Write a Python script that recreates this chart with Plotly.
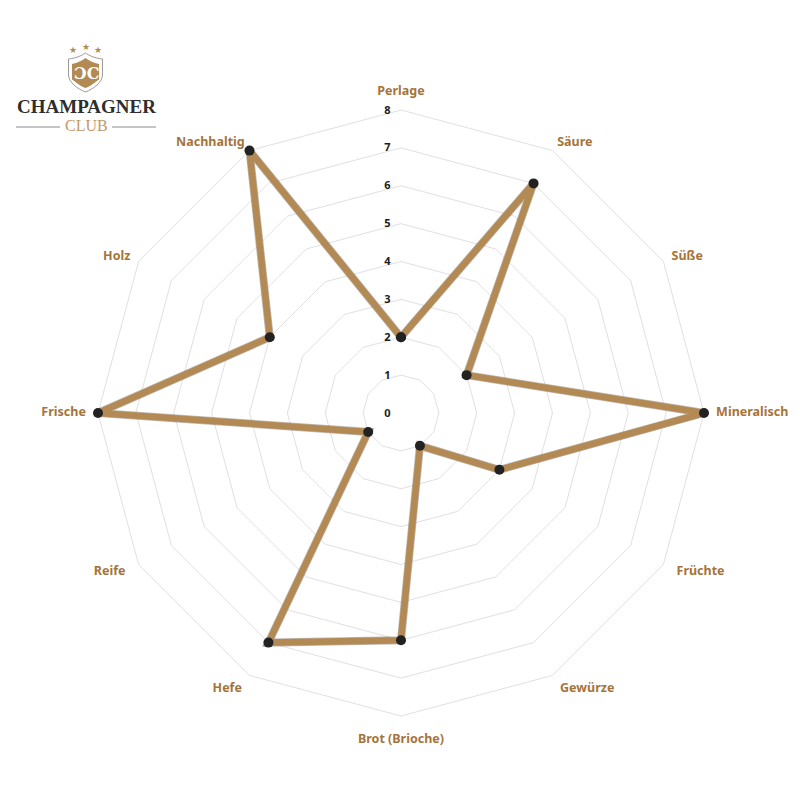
import plotly.graph_objects as go

categories = ["Perlage", "Säure", "Süße", "Mineralisch", "Früchte", "Gewürze",
              "Brot (Brioche)", "Hefe", "Reife", "Frische", "Holz", "Nachhaltig"]
values = [2, 7, 2, 8, 3, 1, 6, 7, 1, 8, 4, 8]
radial_ticks = [0, 1, 2, 3, 4, 5, 6, 7, 8]
label_radius = [8.32, 8.25, 8.25, 8.32, 8.4, 8.4, 8.46, 8.4, 8.4, 8.32, 8.25, 8.25]
label_positions = ["top center", "middle right", "middle right", "middle right", "middle right", "middle right",
                   "bottom center", "middle left", "middle left", "middle left", "middle left", "middle left"]

W = H = 800
UNIT = 37.875
RMAX = 8.6
CX, CY, R = 401, 413, RMAX * UNIT
GOLD = "#B38A54"
LABEL = "#A5743A"
px = lambda x: x / W
py = lambda y: 1 - y / H

fig = go.Figure()
fig.add_trace(go.Scatterpolar(
    r=values + values[:1], theta=categories + categories[:1],
    mode="lines", line=dict(color="rgba(70,50,30,0.35)", width=8),
    hoverinfo="skip", showlegend=False))
fig.add_trace(go.Scatterpolar(
    r=values + values[:1], theta=categories + categories[:1],
    mode="lines+markers",
    line=dict(color=GOLD, width=6.5),
    marker=dict(color="#222222", size=10),
    showlegend=False))
fig.add_trace(go.Scatterpolar(
    r=label_radius, theta=categories, text=categories, mode="text",
    textposition=label_positions, cliponaxis=False,
    textfont=dict(family="Noto Sans", size=12.5, color=LABEL, weight=700),
    hoverinfo="skip", showlegend=False))

shield = ("M {} {} C {} {} {} {} {} {} C {} {} {} {} {} {} L {} {} C {} {} {} {} {} {} "
          "C {} {} {} {} {} {} Z")
def shield_path(l, r, t, b):
    m = (l + r) / 2
    s = [(l, t + 6), (m - 8, t + 5), (m - 3, t + 2), (m, t),
         (m + 3, t + 2), (m + 8, t + 5), (r, t + 6), (r, t + 22),
         (r, b - 10), (m + 8, b - 3), (m, b), (m - 8, b - 3), (l, b - 10), (l, t + 22)]
    return shield.format(*[v for p in s for v in (round(px(p[0]), 5), round(py(p[1]), 5))])

shapes = [
    dict(type="path", xref="paper", yref="paper", path=shield_path(68.5, 102.5, 53, 92),
         fillcolor="white", line=dict(color="#9a9a9a", width=1)),
    dict(type="path", xref="paper", yref="paper", path=shield_path(72, 99, 58, 88),
         fillcolor=GOLD, line=dict(width=0)),
    dict(type="line", xref="paper", yref="paper", x0=px(16), x1=px(60), y0=py(127), y1=py(127),
         line=dict(color="#8a8a8a", width=1)),
    dict(type="line", xref="paper", yref="paper", x0=px(112), x1=px(156), y0=py(127), y1=py(127),
         line=dict(color="#8a8a8a", width=1)),
]

def note(x, y, text, size, color, family="Liberation Serif", bold=False):
    return dict(xref="paper", yref="paper", x=px(x), y=py(y), text=text, showarrow=False,
                xanchor="center", yanchor="middle",
                font=dict(size=size, color=color, family=family, weight=700 if bold else 400))

annotations = [
    note(86, 106, "CHAMPAGNER", 19, "#2e2e2e", "Liberation Serif", True),
    note(86, 126, "CLUB", 16, "#BF9A69", "Liberation Serif"),
    note(86, 73, "ƆC", 16, "white", "DejaVu Serif", True),
    note(73, 50, "★", 9, GOLD, "DejaVu Sans"),
    note(86, 47, "★", 9, GOLD, "DejaVu Sans"),
    note(98, 50, "★", 9, GOLD, "DejaVu Sans"),
]

fig.update_layout(
    width=W, height=H, margin=dict(l=0, r=0, t=0, b=0),
    paper_bgcolor="white", plot_bgcolor="white", showlegend=False,
    shapes=shapes, annotations=annotations,
    polar=dict(
        domain=dict(x=[px(CX - R), px(CX + R)], y=[py(CY + R), py(CY - R)]),
        bgcolor="rgba(0,0,0,0)", gridshape="linear",
        angularaxis=dict(
            direction="clockwise", rotation=90, type="category",
            categoryorder="array", categoryarray=categories,
            showgrid=False, showline=False, ticks="", showticklabels=False),
        radialaxis=dict(
            range=[0, RMAX], tickmode="array", tickvals=radial_ticks, angle=90, tickangle=90,
            showline=False, gridcolor="#E0E0E0", gridwidth=1.2,
            ticks="outside", ticklen=6, tickcolor="rgba(0,0,0,0)", side="counterclockwise",
            tickfont=dict(family="Noto Sans", size=11, color="#1c1c1c", weight=700)),
    ),
)
fig.write_html("out.html", config=dict(displayModeBar=False),
               post_script="document.body.style.margin='0';")
